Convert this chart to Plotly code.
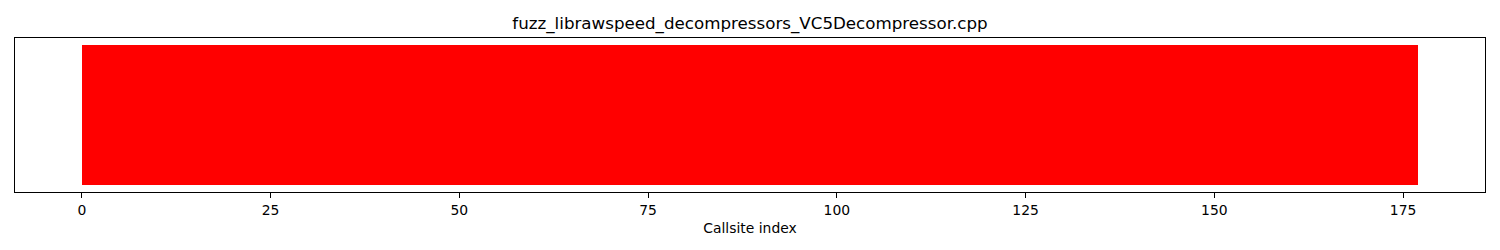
import plotly.graph_objects as go

title = "fuzz_librawspeed_decompressors_VC5Decompressor.cpp"
n_callsites = 177
callsite_index = list(range(n_callsites))
coverage_height = [1] * n_callsites
bar_colors = ["red"] * n_callsites
tick_values = [0, 25, 50, 75, 100, 125, 150, 175]

fig = go.Figure()
fig.add_trace(go.Bar(
    x=[i + 0.5 for i in callsite_index],
    y=coverage_height,
    width=1,
    marker=dict(color=bar_colors, line=dict(width=0)),
    hoverinfo="x",
))

span = n_callsites
fig.update_layout(
    width=1500, height=250,
    margin=dict(l=15, r=15, t=37.5, b=58),
    paper_bgcolor="white", plot_bgcolor="white",
    bargap=0,
    showlegend=False,
    font=dict(family="DejaVu Sans", color="black"),
    title=dict(text=title, x=0.5, xanchor="center", y=1 - 23 / 250, yanchor="middle",
               font=dict(size=16.7, family="DejaVu Sans", color="black")),
)
fig.update_xaxes(
    range=[-0.05 * span, span * 1.05],
    tickvals=tick_values,
    ticks="outside", ticklen=5, tickwidth=1, tickcolor="black",
    showline=True, linecolor="black", linewidth=1, mirror=True,
    showgrid=False, zeroline=False,
    tickfont=dict(size=13.9, family="DejaVu Sans", color="black"),
    title=dict(text="Callsite index", font=dict(size=13.9, family="DejaVu Sans", color="black"), standoff=6),
)
fig.update_yaxes(
    range=[-0.05, 1.05],
    showticklabels=False, ticks="",
    showline=True, linecolor="black", linewidth=1, mirror=True,
    showgrid=False, zeroline=False,
)

fig.write_html("out.html")
